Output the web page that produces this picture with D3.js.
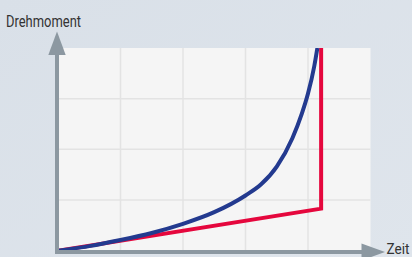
<!DOCTYPE html>
<html><head><meta charset="utf-8">
<script src="https://cdn.jsdelivr.net/npm/d3@7/dist/d3.min.js"></script>
<style>html,body{margin:0;padding:0;background:#dbe1e9;}svg{display:block;}</style>
</head><body>
<svg id="c" width="412" height="257"></svg>
<script>
// Data (x in grid columns 0..5, y in grid rows 0..4)
const xTicks = [0, 1, 2, 3, 4, 5];
const yTicks = [0, 1, 2, 3, 4];
const blueX = [0, 0.5, 1.0, 1.5, 2.0, 2.5, 3.0, 3.25, 3.5, 3.75, 3.9, 4.0, 4.1, 4.15];
const blueY = [0, 0.09, 0.21, 0.35, 0.53, 0.76, 1.09, 1.31, 1.66, 2.22, 2.70, 3.10, 3.64, 4.0];
const redX = [0, 4.21, 4.21];
const redY = [0, 0.83, 4.0];
const yLabel = "Drehmoment";
const xLabel = "Zeit";

const svg = d3.select("#c");
const defs = svg.append("defs");
const g0 = defs.append("linearGradient").attr("id","bg").attr("x1","0").attr("y1","0").attr("x2","1").attr("y2","1");
g0.append("stop").attr("offset","0").attr("stop-color","#d9e0e8");
g0.append("stop").attr("offset","1").attr("stop-color","#dfe5ec");
svg.append("rect").attr("width",412).attr("height",257).attr("fill","url(#bg)");

const x = d3.scaleLinear().domain([0,5]).range([58, 370.5]);
const y = d3.scaleLinear().domain([0,4]).range([250.7, 48]);

defs.append("clipPath").attr("id","clip").append("rect")
  .attr("x", x(0)).attr("y", y(4)).attr("width", x(5)-x(0)).attr("height", y(0)-y(4));

// plot background
svg.append("rect").attr("x", x(0)).attr("y", y(4)).attr("width", x(5)-x(0)).attr("height", y(0)-y(4)).attr("fill","#f5f5f5");

// grid
svg.append("g").selectAll("line").data(xTicks.slice(1,-1)).join("line")
  .attr("x1", d=>x(d)).attr("x2", d=>x(d)).attr("y1", y(4)).attr("y2", y(0))
  .attr("stroke","#e3e3e3").attr("stroke-width",1.5);
svg.append("g").selectAll("line").data(yTicks.slice(1,-1)).join("line")
  .attr("y1", d=>y(d)).attr("y2", d=>y(d)).attr("x1", x(0)).attr("x2", x(5))
  .attr("stroke","#e3e3e3").attr("stroke-width",1.5);

// lines
const plot = svg.append("g").attr("clip-path","url(#clip)");
const redData = redX.map((v,i)=>[v, redY[i]]);
const blueData = blueX.map((v,i)=>[v, blueY[i]]);
plot.append("path").datum(redData)
  .attr("d", d3.line().x(d=>x(d[0])).y(d=>y(d[1])))
  .attr("fill","none").attr("stroke","#e5073d").attr("stroke-width",4).attr("stroke-linejoin","miter");
plot.append("path").datum(blueData)
  .attr("d", d3.line().curve(d3.curveMonotoneX).x(d=>x(d[0])).y(d=>y(d[1])))
  .attr("fill","none").attr("stroke","#233a8f").attr("stroke-width",4);

// axes
const axCol = "#8c98a1";
const ox = 57, oy = 252;
svg.append("line").attr("x1", ox).attr("x2", ox).attr("y1", oy+2).attr("y2", 52).attr("stroke", axCol).attr("stroke-width",4);
svg.append("line").attr("x1", ox-2).attr("x2", 364).attr("y1", oy).attr("y2", oy).attr("stroke", axCol).attr("stroke-width",4);
svg.append("path").attr("d", `M${ox-8.7},55 L${ox},31.5 L${ox+8.7},55 Z`).attr("fill", axCol);
svg.append("path").attr("d", `M361.5,${oy-8.5} L385,${oy} L361.5,${oy+8.5} Z`).attr("fill", axCol);

// labels
svg.append("text").attr("x", 6).attr("y", 26.5).text(yLabel)
  .attr("font-family","Roboto, 'DejaVu Sans', sans-serif").attr("font-size",16).attr("fill","#333")
  .attr("textLength",75).attr("lengthAdjust","spacingAndGlyphs");
svg.append("text").attr("x", 386.5).attr("y", 254).text(xLabel)
  .attr("font-family","Roboto, 'DejaVu Sans', sans-serif").attr("font-size",15).attr("fill","#333")
  .attr("textLength",23).attr("lengthAdjust","spacingAndGlyphs");
</script>
</body></html>
